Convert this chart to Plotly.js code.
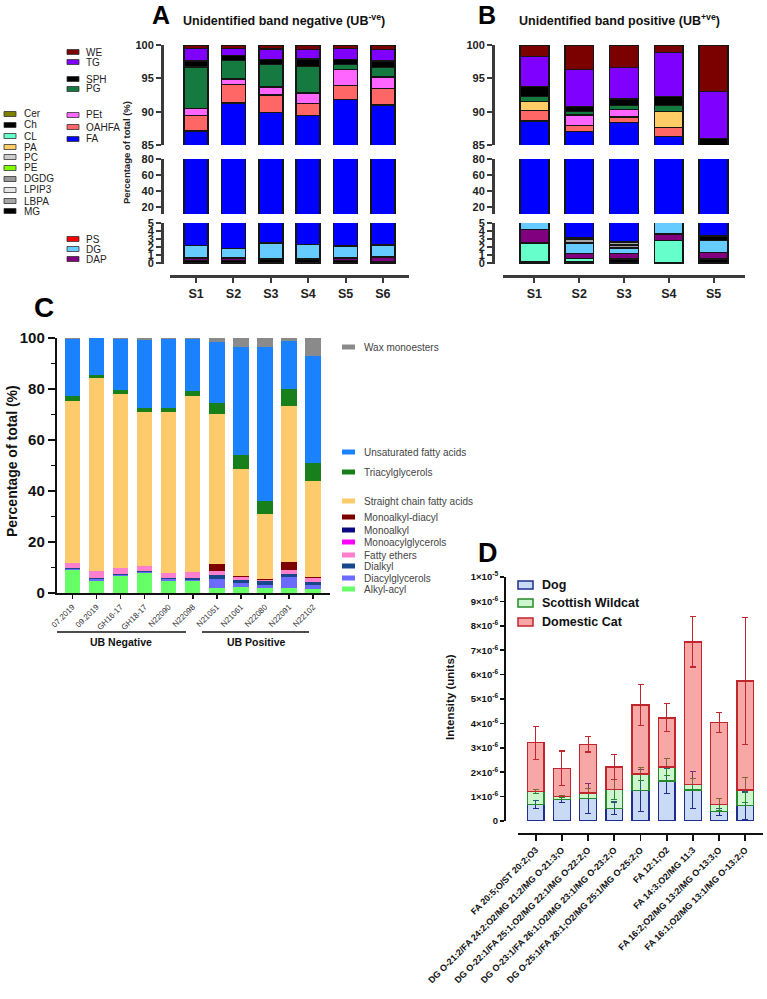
<!DOCTYPE html>
<html><head><meta charset="utf-8">
<script src="https://cdn.plot.ly/plotly-3.0.1.min.js"></script>
<style>html,body{margin:0;padding:0;background:#fff;} #chart{width:767px;height:999px;}</style>
</head><body><div id="chart"></div>
<script>
// ================= DATA =================
// Panels A / B : lipid class composition (% of total)
const samplesNeg = ['S1','S2','S3','S4','S5','S6'];
const samplesPos = ['S1','S2','S3','S4','S5'];

const neg_MG    = [0.3, 0.3, 0.5, 0.5, 0.3, 0.2];
const neg_DAP   = [0.35, 0.35, 0, 0, 0.3, 0.55];
const neg_DG    = [1.55, 1.15, 2.0, 1.8, 1.5, 1.5];
const neg_FA    = [84.9, 89.5, 87.4, 87.1, 89.7, 88.75];
const neg_OAHFA = [2.3, 2.8, 2.6, 1.8, 2.1, 2.5];
const neg_PEt   = [1.1, 0.8, 1.2, 1.6, 2.4, 1.7];
const neg_PG    = [6.2, 2.8, 3.4, 4.0, 0.8, 1.4];
const neg_SPH   = [0.9, 0.7, 0.7, 1.1, 0.7, 1.0];
const neg_TG    = [1.9, 1.1, 1.6, 1.4, 1.7, 1.7];
const neg_WE    = [0.5, 0.5, 0.6, 0.7, 0.5, 0.7];

const pos_MG    = [0.1, 0.2, 0.5, 0, 0.5];
const pos_CL    = [2.4, 0.35, 0, 2.8, 0];
const pos_DAP   = [1.7, 0.65, 0.7, 0.8, 0.8];
const pos_DG    = [1.1, 1.3, 0.7, 2.0, 1.5];
const pos_DGDG  = [0, 0, 0.35, 0, 0];
const pos_LBPA  = [0, 0.5, 0.3, 0, 0];
const pos_Ch    = [0, 0.2, 0.15, 0, 0.6];
const pos_FA    = [83.3, 83.8, 85.7, 80.7, 80.8];
const pos_OAHFA = [1.6, 0.9, 0.8, 1.3, 0];
const pos_PEt   = [0, 1.6, 1.1, 0, 0];
const pos_PA    = [1.3, 0, 0, 2.4, 0];
const pos_PG    = [0.8, 0.5, 0.6, 0.9, 0];
const pos_SPH   = [1.5, 0.8, 1.0, 1.4, 1.8];
const pos_TG    = [4.5, 5.5, 4.7, 6.6, 7.0];
const pos_WE    = [1.7, 3.7, 3.4, 1.1, 7.0];

// Panel C : lipid group composition (% of total)
const samplesC = ['07.2019','09.2019','GH16-17','GH18-17','N22090','N22098','N21051','N21061','N22080','N22091','N22102'];
const c_alkylAcyl   = [9.0, 4.8, 6.6, 7.8, 4.8, 4.6, 2.0, 2.4, 1.8, 2.0, 1.6];
const c_diacylgly   = [0.5, 0.5, 0.5, 0.5, 0.5, 0.6, 3.5, 1.5, 1.5, 4.3, 1.4];
const c_dialkyl     = [0.4, 0.5, 0.5, 0.5, 0.5, 0.6, 1.7, 1.3, 1.3, 1.3, 1.2];
const c_fattyEthers = [1.9, 2.7, 2.4, 1.7, 2.0, 2.4, 1.6, 0.9, 0.6, 1.6, 1.7];
const c_monoacylgly = [0, 0, 0, 0, 0, 0, 0, 0, 0, 0, 0];
const c_monoalkyl   = [0, 0, 0, 0, 0, 0, 0, 0, 0, 0, 0];
const c_monoalkylDi = [0, 0, 0, 0, 0, 0, 2.7, 0.4, 0.3, 2.8, 0.4];
const c_straightFA  = [63.4, 75.8, 68.2, 60.5, 63.2, 68.9, 58.7, 42.3, 25.6, 61.5, 37.8];
const c_triacylgly  = [2.2, 1.3, 1.5, 1.5, 1.5, 2.0, 4.3, 5.4, 4.8, 6.6, 6.9];
const c_unsatFA     = [22.3, 14.3, 19.9, 26.8, 27.1, 20.5, 23.8, 42.1, 60.6, 18.9, 42.1];
const c_wax         = [0.3, 0.1, 0.4, 0.7, 0.4, 0.4, 1.7, 3.7, 3.5, 1.0, 6.9];
const groupsC = ['UB Negative', 'UB Positive'];

// Panel D : intensity (units), means and errors
const featuresD = [
  'FA 20:5;O/ST 20:2;O3',
  'DG O-21:2/FA 24:2;O2/MG 21:2/MG O-21:3;O',
  'DG O-22:1/FA 25:1;O2/MG 22:1/MG O-22:2;O',
  'DG O-23:1/FA 26:1;O2/MG 23:1/MG O-23:2;O',
  'DG O-25:1/FA 28:1;O2/MG 25:1/MG O-25:2;O',
  'FA 12:1;O2',
  'FA 14:3;O2/MG 11:3',
  'FA 16:2;O2/MG 13:2/MG O-13:3;O',
  'FA 16:1;O2/MG 13:1/MG O-13:2;O'
];
const dog      = [0.68e-6, 0.89e-6, 0.93e-6, 0.52e-6, 1.25e-6, 1.64e-6, 1.27e-6, 0.38e-6, 0.63e-6];
const dogErr   = [0.17e-6, 0.12e-6, 0.61e-6, 0.26e-6, 0.87e-6, 0.53e-6, 0.77e-6, 0.14e-6, 0.56e-6];
const wildcat    = [0.53e-6, 0.12e-6, 0.21e-6, 0.78e-6, 0.67e-6, 0.58e-6, 0.23e-6, 0.30e-6, 0.64e-6];
const wildcatErr = [0.09e-6, 0.05e-6, 0.20e-6, 0.41e-6, 0.27e-6, 0.36e-6, 0.24e-6, 0.26e-6, 0.51e-6];
const cat      = [2.00e-6, 1.15e-6, 2.00e-6, 0.92e-6, 2.83e-6, 2.01e-6, 5.84e-6, 3.36e-6, 4.46e-6];
const catErr   = [0.68e-6, 0.71e-6, 0.31e-6, 0.52e-6, 0.85e-6, 0.58e-6, 1.03e-6, 0.41e-6, 2.61e-6];
const intensityTickText = ['0','1×10<sup>-6</sup>','2×10<sup>-6</sup>','3×10<sup>-6</sup>','4×10<sup>-6</sup>','5×10<sup>-6</sup>','6×10<sup>-6</sup>','7×10<sup>-6</sup>','8×10<sup>-6</sup>','9×10<sup>-6</sup>','1×10<sup>-5</sup>'];

// ================= STYLES =================
const FONT = '"Liberation Sans", Arial, Helvetica, sans-serif';
const X = p => p / 767;
const Y = p => 1 - p / 999;

const lipidOrder = ['MG','CL','DAP','DG','PS','PC','PE','Cer','DGDG','LPIP3','LBPA','Ch','FA','OAHFA','PEt','PA','PG','SPH','TG','WE'];
const lipidColors = {
  WE:'#7b0000', TG:'#8000ff', SPH:'#000000', PG:'#157a40', PEt:'#ff66ff', OAHFA:'#ff6666', FA:'#0000ff',
  Cer:'#808000', Ch:'#000000', CL:'#66ffcc', PA:'#ffcc66', PC:'#cccccc', PE:'#80ff00', DGDG:'#999999',
  LPIP3:'#e6e6e6', LBPA:'#a6a6a6', MG:'#000000', PS:'#ff0000', DG:'#66ccff', DAP:'#800080'
};
const negData = {MG:neg_MG, DAP:neg_DAP, DG:neg_DG, FA:neg_FA, OAHFA:neg_OAHFA, PEt:neg_PEt, PG:neg_PG, SPH:neg_SPH, TG:neg_TG, WE:neg_WE};
const posData = {MG:pos_MG, CL:pos_CL, DAP:pos_DAP, DG:pos_DG, DGDG:pos_DGDG, LBPA:pos_LBPA, Ch:pos_Ch, FA:pos_FA, OAHFA:pos_OAHFA, PEt:pos_PEt, PA:pos_PA, PG:pos_PG, SPH:pos_SPH, TG:pos_TG, WE:pos_WE};

const traces = [];
function addStack(data, cats, xa, yas) {
  lipidOrder.forEach(name => {
    const vals = data[name];
    if (!vals || vals.every(v => v === 0)) return;
    yas.forEach(ya => traces.push({
      type:'bar', x:cats, y:vals, xaxis:xa, yaxis:ya, name:name,
      marker:{color:lipidColors[name], line:{color:'#151515', width:1.6}},
      showlegend:false, hoverinfo:'skip'
    }));
  });
}
addStack(negData, samplesNeg, 'x', ['y','y2','y3']);
addStack(posData, samplesPos, 'x2', ['y4','y5','y6']);

// Panel C
const cSeries = [
  ['Alkyl-acyl', c_alkylAcyl, '#66ff66'],
  ['Diacylglycerols', c_diacylgly, '#6b6bff'],
  ['Dialkyl', c_dialkyl, '#17488c'],
  ['Fatty ethers', c_fattyEthers, '#ff7fcf'],
  ['Monoacylglycerols', c_monoacylgly, '#ff00ff'],
  ['Monoalkyl', c_monoalkyl, '#0a0a80'],
  ['Monoalkyl-diacyl', c_monoalkylDi, '#7d0000'],
  ['Straight chain fatty acids', c_straightFA, '#fdca6c'],
  ['Triacylglycerols', c_triacylgly, '#17801a'],
  ['Unsaturated fatty acids', c_unsatFA, '#1a82ff'],
  ['Wax monoesters', c_wax, '#8a8a8a']
];
cSeries.forEach(([name, vals, col]) => traces.push({
  type:'bar', x:samplesC, y:vals, xaxis:'x3', yaxis:'y7', name:name,
  marker:{color:col, line:{width:0}}, showlegend:false, hoverinfo:'skip'
}));

// Panel D
const dSeries = [
  ['Dog', dog, dogErr, 'rgba(100,150,225,0.35)', '#1f2d8f'],
  ['Scottish Wildcat', wildcat, wildcatErr, 'rgba(60,220,60,0.25)', '#268a2a'],
  ['Domestic Cat', cat, catErr, 'rgba(240,60,60,0.45)', '#c0262c']
];
dSeries.forEach(([name, vals, errs, fill, edge]) => traces.push({
  type:'bar', x:featuresD, y:vals, xaxis:'x4', yaxis:'y8', name:name,
  marker:{color:fill, line:{color:edge, width:1.5}},
  error_y:{type:'data', array:errs, visible:true, color:edge, thickness:1.1, width:3},
  showlegend:false, hoverinfo:'skip'
}));

// ================= LAYOUT =================
const abColor = '#3b3b3b';
function abY(opts) {
  return Object.assign({showgrid:false, zeroline:false, showline:true, linecolor:abColor, linewidth:2.5,
    ticks:'outside', ticklen:5, tickwidth:2, tickcolor:abColor, anchor:'free',
    tickfont:{family:FONT, size:11, weight:'bold', color:'#222'}, fixedrange:true}, opts);
}
function abX(opts) {
  return Object.assign({type:'category', showgrid:false, zeroline:false, showline:true, linecolor:abColor, linewidth:2.5,
    ticks:'outside', ticklen:5, tickwidth:2, tickcolor:abColor, anchor:'free', position:Y(276),
    tickfont:{family:FONT, size:12.5, weight:'bold', color:'#222'}, fixedrange:true}, opts);
}

const shapes = [];
const annotations = [];
function txt(x, y, text, size, opts) {
  annotations.push(Object.assign({xref:'paper', yref:'paper', x:X(x), y:Y(y), text:text, showarrow:false,
    xanchor:'left', yanchor:'middle', font:{family:FONT, size:size, color:'#222'}}, opts || {}));
}
function swatch(x0, x1, yc, h, fill, line) {
  shapes.push({type:'rect', xref:'paper', yref:'paper', x0:X(x0), x1:X(x1), y0:Y(yc + h/2), y1:Y(yc - h/2),
    fillcolor:fill, line:line ? {color:line, width:0.8} : {width:0}});
}

// Panel A/B titles
txt(161, 15, 'A', 25, {xanchor:'center', font:{family:FONT, size:25, weight:'bold', color:'#000'}});
txt(181, 20, 'Unidentified band negative (UB<sup>-ve</sup>)', 12.5, {font:{family:FONT, size:12.5, weight:'bold', color:'#111'}});
txt(487, 15, 'B', 25, {xanchor:'center', font:{family:FONT, size:25, weight:'bold', color:'#000'}});
txt(517, 20, 'Unidentified band positive (UB<sup>+ve</sup>)', 12.5, {font:{family:FONT, size:12.5, weight:'bold', color:'#111'}});
txt(126, 153, 'Percentage of total (%)', 9.5, {xanchor:'center', textangle:-90, font:{family:FONT, size:9.5, weight:'bold', color:'#222'}});

// Panel A legend
const legMid = [['WE',52],['TG',62],['SPH',79],['PG',89],['PEt',115],['OAHFA',127],['FA',139],['PS',239],['DG',249],['DAP',259]];
const legLeft = [['Cer',114],['Ch',125],['CL',136],['PA',147],['PC',157],['PE',168],['DGDG',179],['LPIP3',190],['LBPA',201],['MG',211]];
legMid.forEach(([n, yy]) => { swatch(67, 79, yy, 5, lipidColors[n], '#333'); txt(84, yy, n, 10); });
legLeft.forEach(([n, yy]) => { swatch(4, 16, yy, 5, lipidColors[n], '#333'); txt(22, yy, n, 10); });

// Panel C
txt(44, 308, 'C', 28, {xanchor:'center', font:{family:FONT, size:28, weight:'bold', color:'#000'}});
txt(12, 461, 'Percentage of total (%)', 14, {xanchor:'center', textangle:-90, font:{family:FONT, size:14, weight:'bold', color:'#111'}});
const legC = [['Wax monoesters',347],['Unsaturated fatty acids',452],['Triacylglycerols',472],['Straight chain fatty acids',501],
  ['Monoalkyl-diacyl',517],['Monoalkyl',530],['Monoacylglycerols',542],['Fatty ethers',555],['Dialkyl',566],['Diacylglycerols',578],['Alkyl-acyl',589]];
legC.forEach(([n, yy]) => {
  const col = cSeries.find(s => s[0] === n)[2];
  swatch(342, 355, yy, 5, col, null);
  txt(362, yy, n, 10, {font:{family:FONT, size:10, color:'#444'}});
});
shapes.push({type:'line', xref:'paper', yref:'paper', x0:X(57), x1:X(186), y0:Y(632), y1:Y(632), line:{color:'#111', width:1.6}});
shapes.push({type:'line', xref:'paper', yref:'paper', x0:X(202), x1:X(309), y0:Y(632), y1:Y(632), line:{color:'#111', width:1.6}});
txt(121, 642, groupsC[0], 10.5, {xanchor:'center', font:{family:FONT, size:10.5, weight:'bold', color:'#111'}});
txt(256, 642, groupsC[1], 10.5, {xanchor:'center', font:{family:FONT, size:10.5, weight:'bold', color:'#111'}});

// Panel D
txt(488, 553, 'D', 27, {xanchor:'center', font:{family:FONT, size:27, weight:'bold', color:'#000'}});
txt(450, 697, 'Intensity (units)', 11.5, {xanchor:'center', textangle:-90, font:{family:FONT, size:11.5, weight:'bold', color:'#111'}});
[[0,585],[1,603],[2,622]].forEach(([i, yy]) => {
  const s = dSeries[i];
  shapes.push({type:'rect', xref:'paper', yref:'paper', x0:X(518), x1:X(533), y0:Y(yy+4), y1:Y(yy-4),
    fillcolor:s[3], line:{color:s[4], width:1.5}});
  txt(540, yy, s[0], 12.5, {font:{family:FONT, size:12.5, weight:'bold', color:'#111'}});
});

const layout = {
  width:767, height:999, margin:{l:0, r:0, t:0, b:0},
  paper_bgcolor:'#ffffff', plot_bgcolor:'rgba(0,0,0,0)',
  barmode:'stack', bargap:0.36, showlegend:false, hovermode:false,
  font:{family:FONT, color:'#222'},
  // Panel A
  xaxis: abX({domain:[X(170), X(409)], range:[-0.7, 5.7]}),
  yaxis: abY({domain:[Y(145), Y(45)], range:[85, 100], tickvals:[85,90,95,100], position:X(162)}),
  yaxis2: abY({domain:[Y(214), Y(159)], range:[11.25, 80], tickvals:[20,40,60,80], position:X(162)}),
  yaxis3: abY({domain:[Y(264), Y(223)], range:[-0.12, 5], tickvals:[0,1,2,3,4,5], position:X(162)}),
  // Panel B
  xaxis2: abX({domain:[X(503), X(745)], range:[-0.7, 4.7]}),
  yaxis4: abY({domain:[Y(145), Y(45)], range:[85, 100], tickvals:[85,90,95,100], position:X(493)}),
  yaxis5: abY({domain:[Y(214), Y(159)], range:[11.25, 80], tickvals:[20,40,60,80], position:X(493)}),
  yaxis6: abY({domain:[Y(264), Y(223)], range:[-0.12, 5], tickvals:[0,1,2,3,4,5], position:X(493)}),
  // Panel C
  xaxis3: {domain:[X(57), X(330)], anchor:'y7', type:'category', range:[-0.64, 10.7], showgrid:false, zeroline:false,
    showline:true, linecolor:'#111', linewidth:2.2, ticks:'outside', ticklen:4, tickwidth:1.5, tickcolor:'#111',
    tickangle:-45, tickfont:{family:FONT, size:8, color:'#333'}, fixedrange:true},
  yaxis7: {domain:[Y(593), Y(338)], anchor:'x3', range:[0, 100], tickvals:[0,20,40,60,80,100], showgrid:false, zeroline:false,
    showline:true, linecolor:'#111', linewidth:2.2, ticks:'outside', ticklen:7, tickwidth:2, tickcolor:'#111',
    minor:{ticks:'outside', ticklen:4, tickwidth:1.5, tickcolor:'#111', tickvals:[10,30,50,70,90]},
    tickfont:{family:FONT, size:15, weight:'bold', color:'#111'}, fixedrange:true},
  // Panel D
  xaxis4: {domain:[X(518), X(763)], anchor:'free', position:Y(834), type:'category', range:[-0.675, 8.675], showgrid:false,
    zeroline:false, showline:true, linecolor:'#111', linewidth:2.2, ticks:'outside', ticklen:6, tickwidth:1.8, tickcolor:'#111',
    tickangle:-45, tickfont:{family:FONT, size:9, weight:'bold', color:'#111'}, fixedrange:true},
  yaxis8: {domain:[Y(821), Y(577)], anchor:'free', position:X(505), range:[0, 1e-5],
    tickvals:intensityTickText.map((t, i) => i * 1e-6), ticktext:intensityTickText, showgrid:false, zeroline:false,
    showline:true, linecolor:'#111', linewidth:2.2, ticks:'outside', ticklen:4, tickwidth:1.8, tickcolor:'#111',
    tickfont:{family:FONT, size:9.5, weight:'bold', color:'#111'}, fixedrange:true},
  shapes:shapes,
  annotations:annotations
};

Plotly.newPlot('chart', traces, layout, {staticPlot:true, displayModeBar:false});
</script>
</body></html>
